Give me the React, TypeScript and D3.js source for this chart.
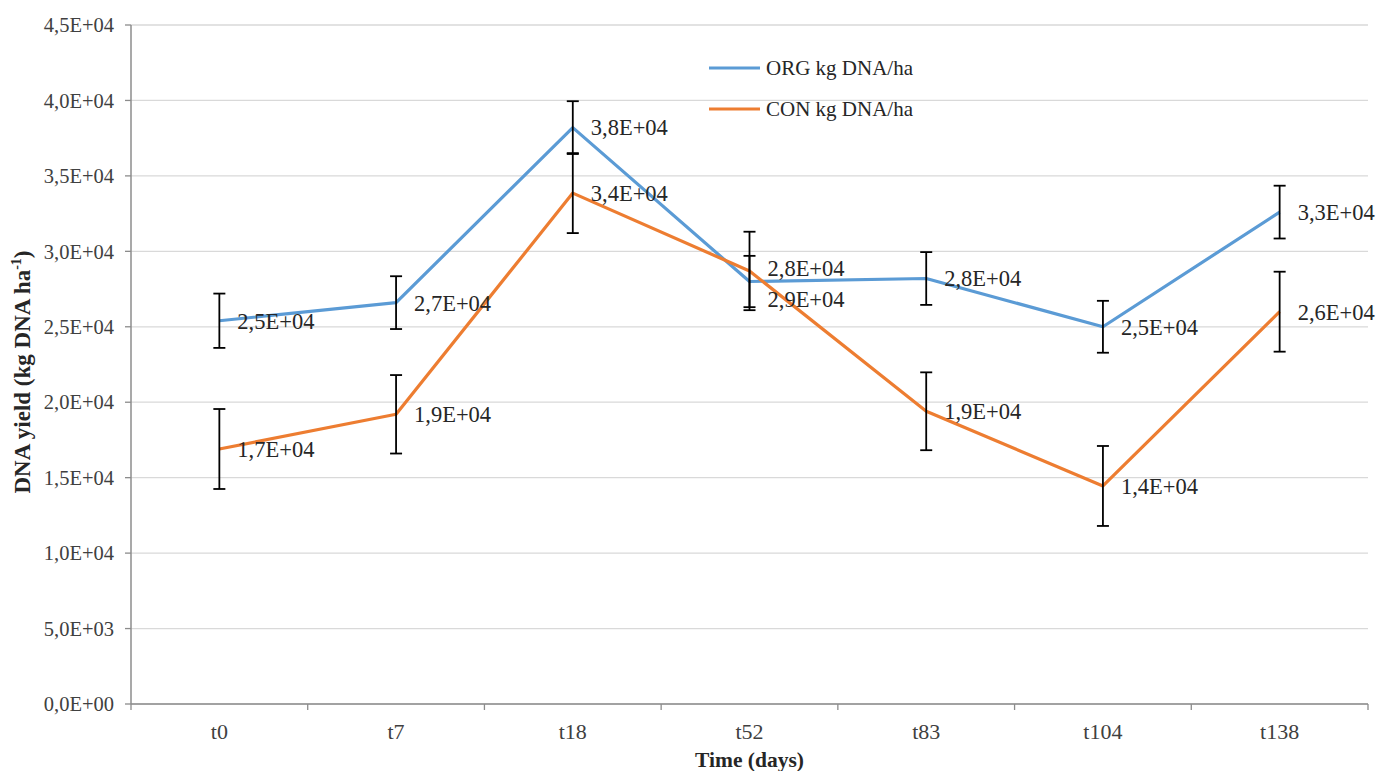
import React from "react";
import * as d3 from "d3";

const categories = ["t0", "t7", "t18", "t52", "t83", "t104", "t138"];
const orgValues = [25400, 26600, 38200, 28000, 28200, 25000, 32600];
const orgErrors = [1800, 1750, 1750, 1700, 1750, 1720, 1750];
const conValues = [16900, 19200, 33860, 28700, 19400, 14450, 26000];
const conErrors = [2650, 2600, 2650, 2600, 2580, 2650, 2650];
const yTicks = [0, 5000, 10000, 15000, 20000, 25000, 30000, 35000, 40000, 45000];
const orgLabelShift = [0, 0, 0, -13, 0, 0, 0];
const conLabelShift = [0, 0, 0, 28, 0, 0, 0];

const W = 1377;
const H = 771;
const margin = { left: 131, right: 9, top: 25, bottom: 67 };
const FONT = "'Liberation Serif', 'Times New Roman', Times, serif";
const BLUE = "#5B9BD5";
const ORANGE = "#ED7D31";
const fs = (size: number, weight: string = "normal") => ({
  fontFamily: FONT,
  fontSize: size + "px",
  fontWeight: weight,
});

function sci(v: number): string {
  const e = Math.floor(Math.log10(v));
  const m = v / Math.pow(10, e);
  let mant = m.toFixed(1);
  let exp = e;
  if (mant === "10.0") {
    mant = "1.0";
    exp += 1;
  }
  return mant.replace(".", ",") + "E+" + String(exp).padStart(2, "0");
}

export default function App() {
  const x = d3
    .scaleBand<string>()
    .domain(categories)
    .range([margin.left, W - margin.right])
    .padding(0);
  const y = d3
    .scaleLinear()
    .domain([0, 45000])
    .range([H - margin.bottom, margin.top]);
  const cx = (c: string) => (x(c) as number) + x.bandwidth() / 2;
  const line = d3
    .line<number>()
    .x((_, i) => cx(categories[i]))
    .y((d) => y(d));

  const x0 = margin.left;
  const x1 = W - margin.right;
  const yBase = y(0);

  const series = [
    { name: "ORG kg DNA/ha", values: orgValues, errors: orgErrors, color: BLUE, shift: orgLabelShift },
    { name: "CON kg DNA/ha", values: conValues, errors: conErrors, color: ORANGE, shift: conLabelShift },
  ];

  const bounds = categories.map((c) => x(c) as number).concat([x1]);

  return (
    <svg
      width={W}
      height={H}
      style={{ position: "absolute", left: 0, top: 0, background: "#fff" }}
    >
      <rect x={0} y={0} width={W} height={H} fill="#fff" />
      {/* gridlines */}
      {yTicks.map((t) => (
        <line key={"g" + t} x1={x0} x2={x1} y1={y(t)} y2={y(t)} stroke="#D9D9D9" strokeWidth={1.3} />
      ))}
      {/* y axis */}
      <line x1={x0} x2={x0} y1={y(45000)} y2={yBase} stroke="#8C8C8C" strokeWidth={1.5} />
      {yTicks.map((t) => (
        <g key={"yt" + t}>
          <line x1={x0 - 6} x2={x0} y1={y(t)} y2={y(t)} stroke="#8C8C8C" strokeWidth={1.3} />
          <text x={114} y={y(t)} dy="0.35em" textAnchor="end" style={fs(20.5)} fill="#404040">
            {t === 0 ? "0,0E+00" : sci(t)}
          </text>
        </g>
      ))}
      {/* x axis */}
      <line x1={x0} x2={x1} y1={yBase} y2={yBase} stroke="#8C8C8C" strokeWidth={1.5} />
      {bounds.map((b, i) => (
        <line key={"xt" + i} x1={b} x2={b} y1={yBase} y2={yBase + 6} stroke="#8C8C8C" strokeWidth={1.3} />
      ))}
      {categories.map((c) => (
        <text key={"xl" + c} x={cx(c)} y={731} dy="0.35em" textAnchor="middle" style={fs(22)} fill="#404040">
          {c}
        </text>
      ))}
      {/* axis titles */}
      <text x={(x0 + x1) / 2} y={759} dy="0.35em" textAnchor="middle" style={fs(21.5, "bold")} fill="#262626">
        Time (days)
      </text>
      <text
        transform={`translate(22, ${372}) rotate(-90)`}
        dy="0.35em"
        textAnchor="middle"
        style={fs(23, "bold")}
        fill="#262626"
      >
        DNA yield (kg DNA ha<tspan dy="-9" style={{ fontSize: "14px" }}>-1</tspan>
        <tspan dy="9">)</tspan>
      </text>
      {/* lines */}
      {series.map((s) => (
        <path key={"l" + s.name} d={line(s.values) as string} fill="none" stroke={s.color} strokeWidth={3.2} strokeLinejoin="round" />
      ))}
      {/* error bars */}
      {series.map((s) =>
        s.values.map((v, i) => {
          const px = cx(categories[i]);
          const top = y(v + s.errors[i]);
          const bot = y(v - s.errors[i]);
          return (
            <g key={"e" + s.name + i} stroke="#000" strokeWidth={1.8}>
              <line x1={px} x2={px} y1={top} y2={bot} />
              <line x1={px - 6} x2={px + 6} y1={top} y2={top} />
              <line x1={px - 6} x2={px + 6} y1={bot} y2={bot} />
            </g>
          );
        })
      )}
      {/* data labels */}
      {series.map((s) =>
        s.values.map((v, i) => (
          <text
            key={"dl" + s.name + i}
            x={cx(categories[i]) + 18}
            y={y(v) + s.shift[i]}
            dy="0.35em"
            style={fs(22.5)}
            fill="#262626"
          >
            {sci(v)}
          </text>
        ))
      )}
      {/* legend */}
      {series.map((s, i) => (
        <g key={"lg" + s.name}>
          <line x1={709} x2={760} y1={68 + i * 41} y2={68 + i * 41} stroke={s.color} strokeWidth={3.2} />
          <text x={766} y={68 + i * 41} dy="0.35em" style={fs(21)} fill="#262626">
            {s.name}
          </text>
        </g>
      ))}
    </svg>
  );
}
